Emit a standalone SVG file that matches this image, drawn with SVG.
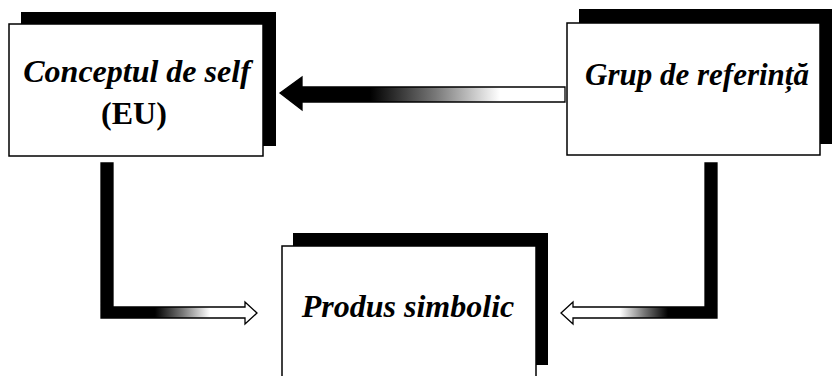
<svg xmlns="http://www.w3.org/2000/svg" width="832" height="376" viewBox="0 0 832 376">
<style>
.shadow{fill:#000}
.box{fill:#fff;stroke:#000;stroke-width:1.5}
.conn{stroke:#000;stroke-width:1.3;stroke-linejoin:miter}
</style>
<defs>
<linearGradient id="gTop" gradientUnits="userSpaceOnUse" x1="370" y1="0" x2="500" y2="0">
<stop offset="0" stop-color="#000"/><stop offset="0.5" stop-color="#777"/><stop offset="1" stop-color="#fff"/>
</linearGradient>
<linearGradient id="gLeft" gradientUnits="userSpaceOnUse" x1="155" y1="0" x2="210" y2="0">
<stop offset="0" stop-color="#000"/><stop offset="0.5" stop-color="#777"/><stop offset="1" stop-color="#fff"/>
</linearGradient>
<linearGradient id="gRight" gradientUnits="userSpaceOnUse" x1="620" y1="0" x2="668" y2="0">
<stop offset="0" stop-color="#fff"/><stop offset="0.5" stop-color="#777"/><stop offset="1" stop-color="#000"/>
</linearGradient>
</defs>
<g id="connectors">
<polygon class="conn" fill="url(#gTop)" points="280,93 302,77 302,87 565,87 565,102 302,102 302,110"/>
<polygon class="conn" fill="url(#gLeft)" points="101,163 113,163 113,307 245,307 245,302 257,313 245,324 245,318 101,318"/>
<polygon class="conn" fill="url(#gRight)" points="717,163 705,163 705,307 573,307 573,302 561,313 573,324 573,318 717,318"/>
</g>
<g id="node-self">
<rect class="shadow" x="21" y="12" width="255" height="134"/>
<rect class="box" x="9" y="24" width="254" height="132"/>
<text x="137" y="82" font-family="Liberation Serif" font-size="32" font-weight="bold" font-style="italic" text-anchor="middle">Conceptul de self</text>
<text x="134" y="124" font-family="Liberation Serif" font-size="32" font-weight="bold" text-anchor="middle">(EU)</text>
</g>
<g id="node-grup">
<rect class="shadow" x="579" y="9" width="253" height="135"/>
<rect class="box" x="567" y="23" width="253" height="132"/>
<text x="697" y="85" font-family="Liberation Serif" font-size="31" font-weight="bold" font-style="italic" text-anchor="middle">Grup de referință</text>
</g>
<g id="node-produs">
<rect class="shadow" x="293" y="233" width="255" height="132"/>
<rect class="box" x="282" y="246" width="254" height="140"/>
<text x="408" y="317" font-family="Liberation Serif" font-size="32" font-weight="bold" font-style="italic" text-anchor="middle">Produs simbolic</text>
</g>
</svg>
